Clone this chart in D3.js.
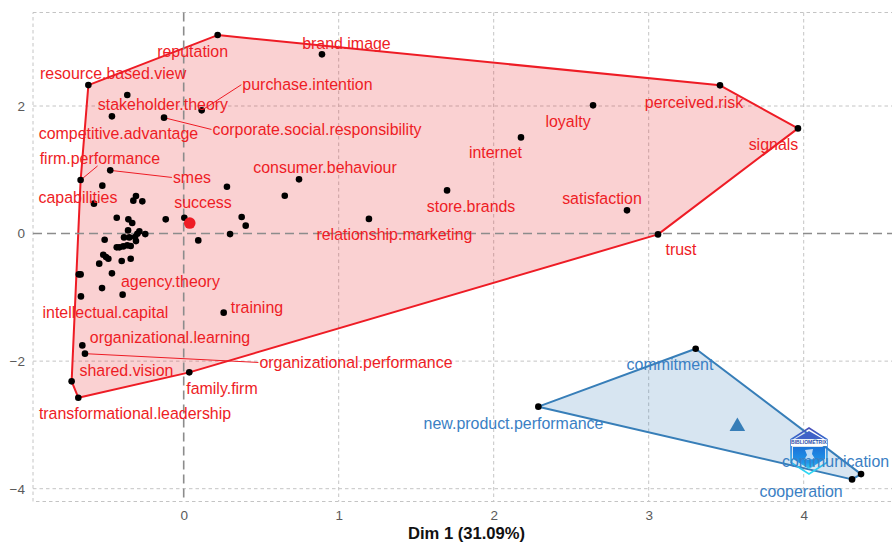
<!DOCTYPE html>
<html><head><meta charset="utf-8">
<script src="https://cdn.jsdelivr.net/npm/d3@7"></script>
<style>html,body{margin:0;padding:0;background:#fff;overflow:hidden}svg{display:block}text{font-family:"Liberation Sans",Arial,sans-serif}</style>
</head><body><svg id="c" width="892" height="543"></svg>
<script>
const xTicks=[0,1,2,3,4];
const yTicks=[-4,-2,0,2];
const xTitle="Dim 1 (31.09%)";
const redLabelled=[
["reputation",0.219,3.112],["brand.image",0.892,2.810],["resource.based.view",-0.615,2.328],
["purchase.intention",0.116,1.932],["stakeholder.theory",-0.364,2.172],["competitive.advantage",-0.463,1.838],
["corporate.social.responsibility",-0.127,1.817],["firm.performance",-0.665,0.839],["smes",-0.474,0.991],
["capabilities",-0.579,0.469],["success",0.004,0.249],["consumer.behaviour",0.744,0.850],
["loyalty",2.641,2.010],["internet",2.176,1.508],["perceived.risk",3.460,2.324],["signals",3.963,1.649],
["store.brands",1.699,0.677],["satisfaction",2.860,0.364],["trust",3.060,-0.013],
["relationship.marketing",1.195,0.230],["agency.theory",-0.394,-0.958],["intellectual.capital",-0.663,-0.985],
["training",0.258,-1.240],["organizational.learning",-0.654,-1.753],["organizational.performance",-0.637,-1.883],
["shared.vision",-0.723,-2.317],["family.firm",0.036,-2.176],["transformational.leadership",-0.680,-2.573]];
const redUnlabelled=[
[-0.525,0.751],[-0.325,0.516],[-0.308,0.588],[-0.267,0.505],[0.279,0.735],[0.652,0.594],[-0.432,0.249],
[-0.357,0.223],[-0.332,0.165],[-0.116,0.223],[0.374,0.259],[0.400,0.124],[0.299,-0.008],[0.094,-0.107],
[-0.248,-0.008],[-0.359,0.050],[-0.286,0.034],[-0.299,-0.002],[-0.385,-0.060],[-0.351,-0.060],[-0.314,-0.055],
[-0.308,-0.118],[-0.510,-0.096],[-0.432,-0.216],[-0.415,-0.216],[-0.390,-0.201],[-0.364,-0.185],[-0.342,-0.196],
[-0.519,-0.331],[-0.501,-0.368],[-0.486,-0.394],[-0.342,-0.394],[-0.400,-0.431],[-0.545,-0.472],[-0.463,-0.624],
[-0.677,-0.640],[-0.665,-0.640],[-0.527,-0.855]];
const blueLabelled=[
["new.product.performance",2.288,-2.714],["commitment",3.303,-1.805],
["cooperation",4.312,-3.854],["communication",4.370,-3.771]];
const redCentroid=[0.039,0.165];
const blueCentroid=[3.572,-3.023];
// repel layout of the labels: offset of the label centre from its point, in pixels
const labelOffsets={"reputation":[-25,16],"brand.image":[24.5,-11],"resource.based.view":[24.7,-11.7],
"purchase.intention":[105.8,-25.7],"stakeholder.theory":[35.7,9.3],"competitive.advantage":[6.5,17],
"corporate.social.responsibility":[153,11.7],"firm.performance":[19.3,-21.7],"smes":[81.7,7],
"capabilities":[-16,-6.3],"success":[18.7,-14.8],"consumer.behaviour":[26,-12],"loyalty":[-25,16],
"internet":[-25.5,15],"perceived.risk":[-26,17],"signals":[-24.5,16],"store.brands":[24,16],
"satisfaction":[-25,-12],"trust":[23,15],"relationship.marketing":[25.5,16],"agency.theory":[47.8,-13.3],
"intellectual.capital":[24.5,16],"training":[33.3,-5.3],"organizational.learning":[87.7,-8],
"organizational.performance":[271,8.7],"shared.vision":[54.8,-11],"family.firm":[32.7,16],
"transformational.leadership":[56.7,15.7],"commitment":[-25.7,15.7],"new.product.performance":[-24.8,16.7],
"communication":[-25.5,-12.2],"cooperation":[-51,12]};
const leaderLeft=["purchase.intention","corporate.social.responsibility","smes","organizational.performance"];
const leaderBottom=["firm.performance"];

const RED="#ee1c25",BLUE="#377eb8",LABEL_BLUE="#3a80c4";
const x=d3.scaleLinear().domain([0,4]).range([183.7,803.7]);
const y=d3.scaleLinear().domain([-4,2]).range([488.7,106.0]);
const L=33,R=892,T=12.5,B=501.5;
const svg=d3.select("#c");

// panel and grid
const grid=svg.append("g").attr("fill","none").attr("stroke","#c4c4c4").attr("stroke-width",1).attr("stroke-dasharray","3.5,3");
grid.append("rect").attr("x",L).attr("y",T).attr("width",R-L+8).attr("height",B-T);
grid.selectAll(".gx").data(xTicks.filter(d=>d!==0)).join("line").attr("x1",d=>x(d)).attr("x2",d=>x(d)).attr("y1",T).attr("y2",B);
grid.selectAll(".gy").data(yTicks.filter(d=>d!==0)).join("line").attr("y1",d=>y(d)).attr("y2",d=>y(d)).attr("x1",L).attr("x2",R);

// hulls
const redPts=redLabelled.map(d=>[x(d[1]),y(d[2])]).concat(redUnlabelled.map(d=>[x(d[0]),y(d[1])]));
const bluePts=blueLabelled.map(d=>[x(d[1]),y(d[2])]);
const line=d3.line().curve(d3.curveLinearClosed);
[[redPts,RED,"#e41a1c"],[bluePts,BLUE,"#377eb8"]].forEach(([p,c,f])=>{
  svg.append("path").attr("d",line(d3.polygonHull(p))).attr("fill",f).attr("fill-opacity",0.2)
    .attr("stroke",c).attr("stroke-width",2).attr("stroke-linejoin","round");
});

// zero lines
const zero=svg.append("g").attr("stroke","#8c8c8c").attr("stroke-width",1.6).attr("stroke-dasharray","9,5");
zero.append("line").attr("x1",x(0)).attr("x2",x(0)).attr("y1",T).attr("y2",B);
zero.append("line").attr("y1",y(0)).attr("y2",y(0)).attr("x1",L).attr("x2",R);

// axes tick labels via d3 axes
const gx=svg.append("g").attr("transform",`translate(0,${B})`).call(d3.axisBottom(x).tickValues(xTicks).tickSize(0).tickPadding(9).tickFormat(d3.format("d")));
const gy=svg.append("g").attr("transform",`translate(${L},0)`).call(d3.axisLeft(y).tickValues(yTicks).tickSize(0).tickPadding(8).tickFormat(d=>d<0?"\u2212"+Math.abs(d):d));
[gx,gy].forEach(g=>{g.select(".domain").remove();g.selectAll("text").attr("fill","#5a5a5a").style("font-size","13.5px").style("font-family",'"Liberation Sans",Arial,sans-serif');});
svg.append("text").attr("x",466.5).attr("y",539).attr("text-anchor","middle").attr("font-weight","bold").attr("font-size","16.6px").attr("fill","#111").text(xTitle);

// leaders + labels
const allLabels=redLabelled.map(d=>({n:d[0],x:d[1],y:d[2],c:RED})).concat(blueLabelled.map(d=>({n:d[0],x:d[1],y:d[2],c:LABEL_BLUE})));
const leaders=svg.append("g");

// centroids and points
const marks=svg.append("g");
marks.selectAll("circle.p").data(redPts.concat(bluePts)).join("circle").attr("class","p").attr("cx",d=>d[0]).attr("cy",d=>d[1]).attr("r",3.3).attr("fill","#000");
marks.append("circle").attr("cx",x(redCentroid[0])).attr("cy",y(redCentroid[1])).attr("r",5.8).attr("fill",RED);
marks.append("path").attr("d",d3.symbol(d3.symbolTriangle,105)()).attr("fill",BLUE)
  .attr("transform",`translate(${x(blueCentroid[0])},${y(blueCentroid[1])})`);

// watermark logo
const defs=svg.append("defs");
const gr=defs.append("linearGradient").attr("id","lg").attr("x1",0).attr("x2",0).attr("y1",0).attr("y2",1);
gr.append("stop").attr("offset","0").attr("stop-color","#4a50b8");
gr.append("stop").attr("offset","0.45").attr("stop-color","#1f7fe0");
gr.append("stop").attr("offset","1").attr("stop-color","#30dcf5");
const gr2=defs.append("linearGradient").attr("id","lg2").attr("x1",0).attr("x2",0).attr("y1",0).attr("y2",1);
gr2.append("stop").attr("offset","0").attr("stop-color","#1c74d8");
gr2.append("stop").attr("offset","0.7").attr("stop-color","#1f96ea");
gr2.append("stop").attr("offset","1").attr("stop-color","#38d0f2");
const cx=809,cy=451,r=23;
const hex=d3.range(6).map(i=>{const a=Math.PI/3*i-Math.PI/2;return [r*Math.cos(a)*0.9,r*Math.sin(a)];});
const logo=svg.append("g").attr("transform",`translate(${cx},${cy})`);
logo.append("path").attr("d",line(hex)).attr("fill","none").attr("stroke","url(#lg)").attr("stroke-width",1.5);
logo.append("path").attr("d","M-16,-4 L16,-4 L16,8 L0,18 L-16,8 Z").attr("fill","url(#lg2)");
logo.append("path").attr("d","M-14,-12 L0,-20 L14,-12 Z").attr("fill","#4062c8");
logo.append("rect").attr("x",-18).attr("y",-11.5).attr("width",36).attr("height",6.5).attr("fill","#fff");
logo.append("text").attr("y",-6.6).attr("text-anchor","middle").attr("font-size","5px").attr("font-weight","bold").attr("fill","#2c4fa8").text("BIBLIOMETRIX");
logo.append("path").attr("d","M-4,-1 L4,-2 L3,3 L6,8 L-5,9 L-2,4 Z").attr("fill","#fff").attr("fill-opacity",0.7);

const labels=svg.append("g").attr("font-size","15.95px");
labels.selectAll("text").data(allLabels).join("text")
  .attr("x",d=>x(d.x)+labelOffsets[d.n][0]).attr("y",d=>y(d.y)+labelOffsets[d.n][1])
  .attr("dy","0.35em").attr("text-anchor","middle").attr("fill",d=>d.c).text(d=>d.n)
  .each(function(d){
    const b=this.getBBox();
    let e=null;
    if(leaderLeft.includes(d.n)) e=[b.x-1,b.y+b.height/2];
    if(leaderBottom.includes(d.n)) e=[b.x+b.width*0.48,b.y+b.height-1];
    if(e) leaders.append("line").attr("x1",x(d.x)).attr("y1",y(d.y)).attr("x2",e[0]).attr("y2",e[1]).attr("stroke",d.c).attr("stroke-width",1);
  });
</script></body></html>
